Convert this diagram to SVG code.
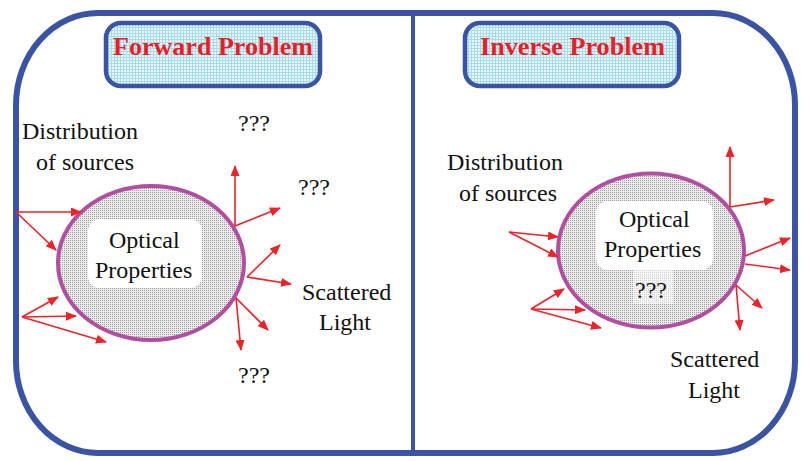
<svg xmlns="http://www.w3.org/2000/svg" width="801" height="461" viewBox="0 0 801 461">
<style>
.frame{fill:none;stroke:#3a53a4;stroke-width:6}
.div{stroke:#3a53a4;stroke-width:4}
.tbox{fill:url(#cyan);stroke:#3a53a4;stroke-width:4.5}
.title{font-family:"Liberation Serif","Times New Roman",serif;font-weight:bold;font-size:26px;fill:#ee1c24}
.lbl{font-family:"Liberation Serif","Times New Roman",serif;font-size:24px;fill:#111}
.ell{fill:url(#gray);stroke:#b24ea2;stroke-width:4}
.inner{fill:#ffffff}
.arr{stroke:#ee2228;stroke-width:1.6;fill:none;marker-end:url(#ah)}
</style>
<defs>
<pattern id="cyan" width="3" height="3" patternUnits="userSpaceOnUse">
<rect width="3" height="3" fill="#e6f7fb"/>
<rect width="3" height="1" fill="#a9dcea"/>
<rect width="1" height="3" fill="#a9dcea"/>
</pattern>
<pattern id="gray" width="2" height="2" patternUnits="userSpaceOnUse">
<rect width="2" height="2" fill="#ececec"/>
<rect width="1" height="1" fill="#9c9c9c"/>
</pattern>
<marker id="ah" markerWidth="11" markerHeight="9" refX="10" refY="4.5" orient="auto" markerUnits="userSpaceOnUse">
<path d="M0,0 L11,4.5 L0,9 Z" fill="#ee2228"/>
</marker>
</defs>
<rect id="frame" class="frame" x="16" y="13" width="779" height="440" rx="82" ry="92"/>
<line id="divider" class="div" x1="413" y1="13" x2="413" y2="453"/>
<g id="forward-title">
<rect class="tbox" x="106" y="23" width="214" height="63" rx="15"/>
<text class="title" x="113" y="55" textLength="200" lengthAdjust="spacingAndGlyphs">Forward Problem</text>
</g>
<g id="inverse-title">
<rect class="tbox" x="465" y="23" width="214" height="63" rx="15"/>
<text class="title" x="480" y="55" textLength="185" lengthAdjust="spacingAndGlyphs">Inverse Problem</text>
</g>
<g id="forward-sources">
<text class="lbl" x="22" y="139">Distribution</text>
<text class="lbl" x="36" y="170">of sources</text>
</g>
<g id="forward-medium">
<ellipse class="ell" cx="151" cy="263" rx="93" ry="77"/>
<rect class="inner" x="88" y="219" width="114" height="69" rx="12"/>
<text class="lbl" x="109" y="248">Optical</text>
<text class="lbl" x="95" y="278">Properties</text>
</g>
<g id="forward-scattered">
<text class="lbl" x="302" y="300">Scattered</text>
<text class="lbl" x="319" y="330">Light</text>
</g>
<g id="forward-unknowns">
<text class="lbl" x="238" y="131">???</text>
<text class="lbl" x="298" y="195">???</text>
<text class="lbl" x="238" y="383">???</text>
</g>
<g id="inverse-sources">
<text class="lbl" x="447" y="170">Distribution</text>
<text class="lbl" x="459" y="201">of sources</text>
</g>
<g id="inverse-medium">
<ellipse class="ell" cx="651" cy="250.5" rx="93" ry="77"/>
<rect class="inner" x="596" y="201" width="117" height="69" rx="12"/>
<rect x="633" y="270" width="40" height="34" fill="#ffffff" opacity="0.55"/>
<text class="lbl" x="619" y="227">Optical</text>
<text class="lbl" x="604" y="257">Properties</text>
<text class="lbl" x="635" y="298">???</text>
</g>
<g id="inverse-scattered">
<text class="lbl" x="670" y="367">Scattered</text>
<text class="lbl" x="688" y="398">Light</text>
</g>
<g id="connectors">
<line class="arr" x1="16" y1="212" x2="81" y2="212"/>
<line class="arr" x1="16" y1="212" x2="56" y2="250"/>
<line class="arr" x1="22" y1="317" x2="58" y2="297"/>
<line class="arr" x1="22" y1="317" x2="76" y2="316"/>
<line class="arr" x1="22" y1="317" x2="106" y2="342"/>
<line class="arr" x1="235" y1="226" x2="235" y2="166"/>
<line class="arr" x1="235" y1="226" x2="280" y2="208"/>
<line class="arr" x1="247" y1="277" x2="280" y2="245"/>
<line class="arr" x1="247" y1="277" x2="291" y2="284"/>
<line class="arr" x1="236" y1="298" x2="268" y2="330"/>
<line class="arr" x1="236" y1="298" x2="241" y2="350"/>
<line class="arr" x1="509" y1="232" x2="558" y2="237"/>
<line class="arr" x1="509" y1="232" x2="558" y2="257"/>
<line class="arr" x1="531" y1="309" x2="564" y2="289"/>
<line class="arr" x1="531" y1="309" x2="585" y2="310"/>
<line class="arr" x1="531" y1="309" x2="601" y2="328"/>
<polyline class="arr" points="730,207 730,147"/>
<line class="arr" x1="730" y1="207" x2="774" y2="200"/>
<line class="arr" x1="745" y1="256" x2="790" y2="238"/>
<line class="arr" x1="745" y1="264" x2="790" y2="270"/>
<line class="arr" x1="736" y1="285" x2="762" y2="308"/>
<line class="arr" x1="736" y1="285" x2="740" y2="330"/>
</g>
</svg>
